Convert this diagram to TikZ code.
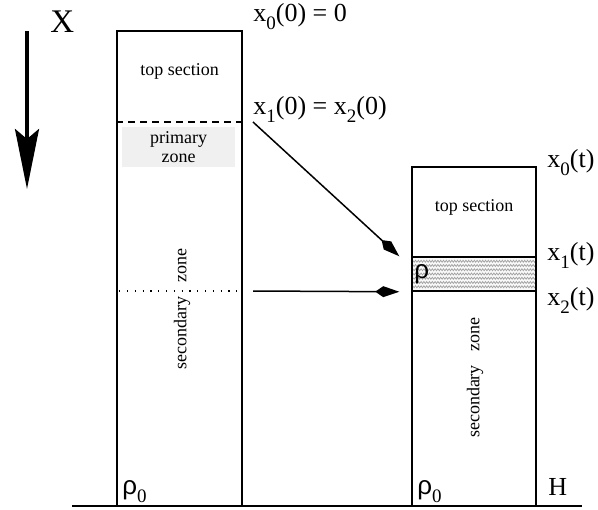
\documentclass[tikz,border=0pt]{standalone}
\usepackage{fontspec}
\setmainfont{Liberation Serif}
\newfontfamily\rhofont{Liberation Sans}
\usetikzlibrary{arrows.meta, calc, decorations.pathmorphing}

% lowered subscript as in the drawing
\newcommand{\lsub}[1]{\raisebox{-4pt}{\fontsize{9.5}{9.5}\selectfont #1}}

\begin{document}
\begin{tikzpicture}[x=0.5pt, y=-0.5pt,
    colbox/.style={draw, line width=0.75pt, inner sep=0pt},
    zonetext/.style={font=\fontsize{9}{9.5}\selectfont, align=center, inner sep=0pt},
    lbl/.style={font=\fontsize{13}{13}\selectfont, inner sep=0pt, anchor=base west},
    shiftarrow/.style={line width=0.75pt, -{Kite[length=12pt, width=5.5pt, inset=4pt]}},
    layer/.style={draw, line width=0.75pt, fill=gray!5, inner sep=0pt,
        path picture={
            \foreach \k in {1,...,7}
                \draw[gray!75, line width=0.35pt, decorate,
                      decoration={zigzag, segment length=1.4pt, amplitude=0.5pt}]
                    ($(path picture bounding box.north west)!\k/8!(path picture bounding box.south west)$) --
                    ($(path picture bounding box.north east)!\k/8!(path picture bounding box.south east)$);
        }}]
    \useasboundingbox (0,0) rectangle (598,509);

    % depth axis
    \coordinate (xtop) at (27,31);
    \coordinate (xbottom) at (27,189);
    \draw[line width=1.8pt, -{Stealth[length=30pt, width=12pt, inset=5pt]}] (xtop) -- (xbottom);
    \node[lbl, font=\fontsize{16.5}{16.5}\selectfont] (xaxis) at (50,32) {X};

    % ground
    \coordinate (groundl) at (72,506);
    \coordinate (groundr) at (582,506);
    \draw[line width=0.75pt] (groundl) -- (groundr);

    % column at t = 0
    \node[colbox, minimum width=62.5pt, minimum height=237.5pt] (leftbox) at (179.5,268.5) {};
    \node[zonetext] (topleft) at (179.5,71) {top section};
    \node[zonetext, fill=black!6, minimum width=56.5pt, minimum height=20pt] (primary) at (178.5,147) {primary\\zone};
    \node[zonetext, rotate=90] (secleft) at (182,309) {secondary\hspace{7pt}zone};
    \coordinate (x12start) at (253,122);
    \coordinate (x2start) at (253,291);
    \draw[line width=0.75pt, dash pattern=on 3.5pt off 2.5pt] (leftbox.west |- x12start) -- (leftbox.east |- x12start);
    \draw[line width=0.6pt, dash pattern=on 0.6pt off 3.3pt] ([xshift=1.5pt]leftbox.west |- x2start) -- ([xshift=-2.5pt]leftbox.east |- x2start);
    \node[lbl] (rholeft) at (122,494) {{\rhofont ρ}\lsub{0}};

    % column at time t
    \node[colbox, minimum width=62pt, minimum height=169.5pt] (rightbox) at (474,336.5) {};
    \node[zonetext] (topright) at (474,207) {top section};
    \node[layer, minimum width=62pt, minimum height=17pt] (rholayer) at (474,274) {};
    \node[lbl, font=\rhofont\fontsize{13}{13}\selectfont] (rholabel) at (414,278) {ρ};
    \node[zonetext, rotate=90] (secright) at (475,377.5) {secondary\hspace{7pt}zone};
    \node[lbl] (rhoright) at (417,494) {{\rhofont ρ}\lsub{0}};
    \node[lbl] (hlabel) at (548,495) {H};

    % interface labels
    \node[lbl] (x0zero) at (253,21) {x\lsub{0}(0) = 0};
    \node[lbl] (x12zero) at (253,114) {x\lsub{1}(0) = x\lsub{2}(0)};
    \node[lbl] (x0t) at (547,167) {x\lsub{0}(t)};
    \node[lbl] (x1t) at (547,260) {x\lsub{1}(t)};
    \node[lbl] (x2t) at (547,305) {x\lsub{2}(t)};

    % moving interfaces
    \draw[shiftarrow] (x12start) -- ([xshift=-6pt]rholayer.north west);
    \draw[shiftarrow] (x2start) -- ([xshift=-6pt]rholayer.south west);
\end{tikzpicture}
\end{document}
